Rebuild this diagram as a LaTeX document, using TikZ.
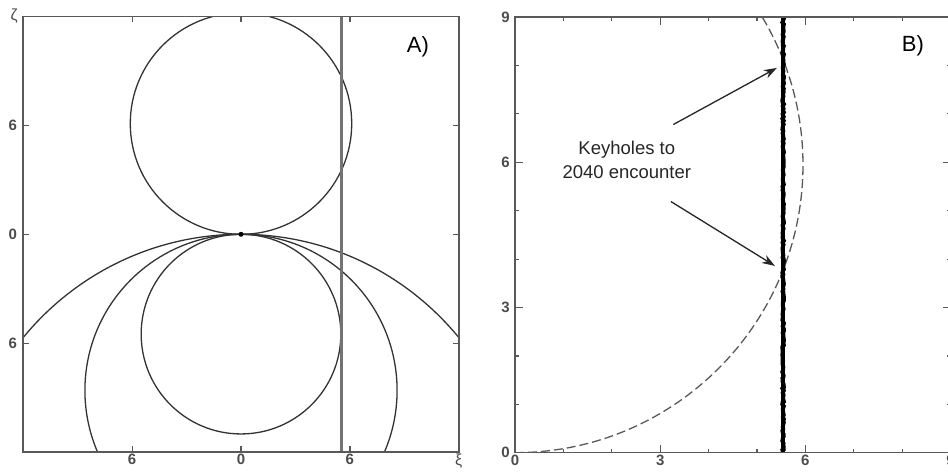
\documentclass[tikz,border=0pt]{standalone}
\usepackage{fontspec}
\setmainfont{Liberation Sans}
\setsansfont{Liberation Sans}
\usepackage{xcolor}
\usetikzlibrary{arrows.meta, positioning, decorations.pathmorphing}

\begin{document}
\begin{tikzpicture}[
    x=1pt, y=1pt,
    % Define specific styles
    frame_line/.style={draw=black!65, line width=1.5pt},
    tick_line/.style={draw=black!65, line width=1.2pt},
    curve_line/.style={draw=black!80, line width=1.3pt},
    cut_line/.style={draw=black!55, line width=2.4pt},
    dashed_curve/.style={draw=black!65, line width=1.3pt, dash pattern=on 9pt off 4pt},
    band_line/.style={draw=black, line width=4pt, decorate, decoration={random steps, segment length=2pt, amplitude=0.8pt}},
    tick_label/.style={font=\fontsize{15}{15}\selectfont\bfseries, text=black!70, inner sep=0pt},
    axis_label/.style={font=\fontsize{16}{16}\selectfont, text=black!70, inner sep=0pt},
    panel_label/.style={font=\fontsize{22}{22}\selectfont, inner sep=0pt},
    note_label/.style={font=\fontsize{18.5}{24}\selectfont, text=black!85, align=center, inner sep=0pt},
    keyhole_arrow/.style={-{Stealth[length=13pt, width=9pt]}, line width=1.3pt, draw=black!85},
]
\useasboundingbox (0,0) rectangle (948,472);

% Panel A: target plane
\begin{scope}[shift={(241,237.7)}, x=18.15pt, y=18.15pt]
  \begin{scope}
    \clip (-12,-12) rectangle (12,12);
    \draw[curve_line] (0,6.1) circle (6.1);
    \draw[curve_line] (0,-5.5) circle (5.5);
    \draw[curve_line] (0,-8.6) circle (8.6);
    \draw[curve_line] (0,-15.5) circle (15.5);
    \draw[cut_line] (5.54,-12) -- (5.54,12);
  \end{scope}
  \fill[black] (0,0) circle (2.5pt);
  \draw[frame_line] (-12,-12) rectangle (12,12);
  \foreach \t/\lab in {-6/6, 0/0, 6/6} {
    \draw[tick_line] (\t,-12) -- ++(0,6pt);
    \draw[tick_line] (\t,12) -- ++(0,-6pt);
    \draw[tick_line] (-12,\t) -- ++(6pt,0);
    \draw[tick_line] (12,\t) -- ++(-6pt,0);
    \node[tick_label, anchor=north] at ([yshift=-2pt]\t,-12) {\lab};
    \node[tick_label, anchor=east] at ([xshift=-6pt]-12,\t) {\lab};
  }
  \node[axis_label, anchor=north] (xi) at ([yshift=-2pt]12,-12) {ξ};
  \node[axis_label] (zeta) at ([xshift=-9pt]-12,12) {ζ};
  \node[panel_label] (panelA) at (9.75,10.32) {A)};
\end{scope}

% Panel B: close-up of the keyholes
\begin{scope}[shift={(515,19.3)}, x=48.4pt, y=48.4pt]
  \begin{scope}
    \clip (0,0) rectangle (9,9);
    \draw[dashed_curve] (0,0) arc[start angle=-90, end angle=32, radius=5.95];
    \draw[draw=black, line width=4pt] (5.54,0) -- (5.54,9);
    \draw[band_line] (5.54,0) -- (5.54,9);
  \end{scope}
  \draw[frame_line] (0,0) rectangle (9,9);
  \foreach \t in {1,2,4,5,7,8} {
    \draw[tick_line] (\t,0) -- ++(0,4pt);
    \draw[tick_line] (\t,9) -- ++(0,-4pt);
    \draw[tick_line] (0,\t) -- ++(4pt,0);
    \draw[tick_line] (9,\t) -- ++(-4pt,0);
  }
  \foreach \t in {0,3,6,9} {
    \draw[tick_line] (\t,0) -- ++(0,8pt);
    \draw[tick_line] (\t,9) -- ++(0,-8pt);
    \draw[tick_line] (0,\t) -- ++(8pt,0);
    \draw[tick_line] (9,\t) -- ++(-8pt,0);
    \node[tick_label, anchor=north] at ([yshift=-2pt]\t,0) {\t};
    \node[tick_label, anchor=east] at ([xshift=-5pt]0,\t) {\t};
  }
  \node[panel_label] (panelB) at (8.22,8.40) {B)};

  % Keyhole annotation
  \node[note_label] (keyholes) at (2.31,6.05) {Keyholes to\\2040 encounter};
  \coordinate (up_start) at (3.27,6.78);
  \coordinate (up_hole) at (5.41,7.95);
  \coordinate (low_start) at (3.22,5.19);
  \coordinate (low_hole) at (5.37,3.86);
  \draw[keyhole_arrow] (up_start) -- (up_hole);
  \draw[keyhole_arrow] (low_start) -- (low_hole);
\end{scope}

\end{tikzpicture}
\end{document}
